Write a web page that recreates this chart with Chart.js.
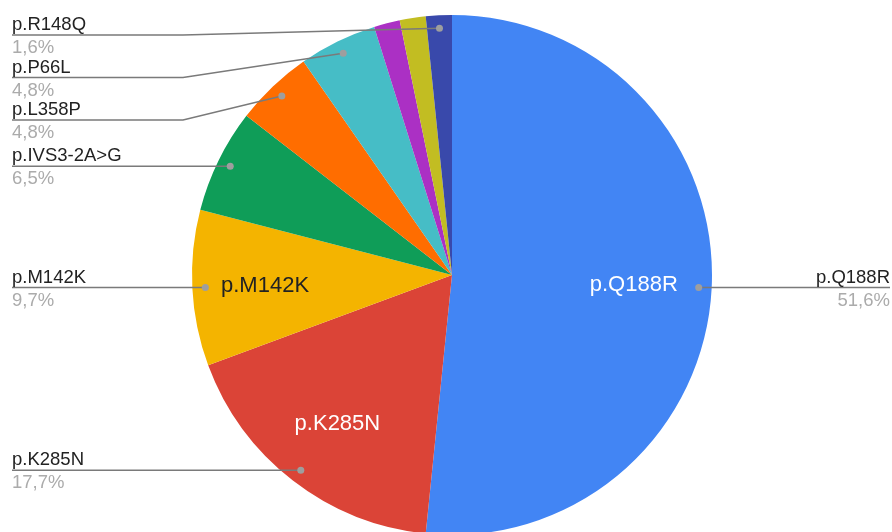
<!DOCTYPE html>
<html>
<head>
<meta charset="utf-8">
<script src="https://cdn.jsdelivr.net/npm/chart.js@4"></script>
<style>
  html, body { margin: 0; padding: 0; background: #fff; overflow: hidden; width: 892px; height: 532px; }
  canvas { position: absolute; left: 0; top: 0; }
</style>
</head>
<body>
<canvas id="c" width="892" height="550"></canvas>
<script>
// ---- data ----
const categories = ['p.Q188R', 'p.K285N', 'p.M142K', 'p.IVS3-2A>G', 'p.L358P', 'p.P66L', 'p.(other 1)', 'p.(other 2)', 'p.R148Q'];
const counts = [32, 11, 6, 4, 3, 3, 1, 1, 1];
const hiddenOuterLabels = ['p.(other 1)', 'p.(other 2)'];

// ---- style ----
const sliceColors = ['#4285F4', '#DB4437', '#F4B400', '#0F9D58', '#FF6D00', '#46BDC6', '#AB30C4', '#C2BD22', '#3949AB'];
const FONT = '"Liberation Sans", Arial, sans-serif';

function isLight(hex) {
  const r = parseInt(hex.substr(1, 2), 16), g = parseInt(hex.substr(3, 2), 16), b = parseInt(hex.substr(5, 2), 16);
  return (0.299 * r + 0.587 * g + 0.114 * b) > 170;
}

const labelPlugin = {
  id: 'gLabels',
  afterDraw(chart) {
    const ctx = chart.ctx;
    const meta = chart.getDatasetMeta(0);
    const data = chart.data.datasets[0].data;
    const total = data.reduce((a, b) => a + b, 0);
    const left = [], right = [];
    meta.data.forEach((arc, i) => {
      const p = arc.getProps(['x', 'y', 'startAngle', 'endAngle', 'outerRadius'], true);
      const mid = (p.startAngle + p.endAngle) / 2;
      const R = p.outerRadius;
      const item = {
        i, mid, R, cx: p.x, cy: p.y,
        dx: p.x + Math.cos(mid) * R * 0.95,
        dy: p.y + Math.sin(mid) * R * 0.95,
        frac: data[i] / total
      };
      // inner label
      if (item.frac > 0.09) {
        ctx.save();
        ctx.font = '22px ' + FONT;
        ctx.fillStyle = isLight(sliceColors[i]) ? '#222222' : '#ffffff';
        ctx.textAlign = 'center';
        ctx.textBaseline = 'middle';
        const k = item.frac > 0.5 ? 0.70 : 0.72;
        ctx.fillText(chart.data.labels[i], p.x + Math.cos(mid) * R * k, p.y + Math.sin(mid) * R * k + 1);
        ctx.restore();
      }
      if (hiddenOuterLabels.includes(chart.data.labels[i])) return;
      (Math.cos(mid) < 0 ? left : right).push(item);
    });

    function drawLabel(item, lineY, textX, align, endX, bendX) {
      ctx.save();
      ctx.strokeStyle = '#7a7a7a';
      ctx.lineWidth = 1.4;
      ctx.beginPath();
      ctx.moveTo(item.dx, item.dy);
      if (Math.abs(lineY - item.dy) > 1) ctx.lineTo(bendX, lineY);
      ctx.lineTo(endX, lineY);
      ctx.stroke();
      ctx.fillStyle = '#9e9e9e';
      ctx.beginPath();
      ctx.arc(item.dx, item.dy, 3.5, 0, Math.PI * 2);
      ctx.fill();
      ctx.font = '18.5px ' + FONT;
      ctx.textAlign = align;
      ctx.textBaseline = 'alphabetic';
      ctx.fillStyle = '#222222';
      ctx.fillText(chart.data.labels[item.i], textX, lineY - 5);
      ctx.fillStyle = '#ababab';
      ctx.fillText((item.frac * 100).toFixed(1).replace('.', ',') + '%', textX, lineY + 18);
      ctx.restore();
    }

    left.sort((a, b) => a.dy - b.dy);
    let prev = -Infinity;
    left.forEach(item => {
      const lineY = Math.max(item.dy, prev + 42.5, 35);
      prev = lineY;
      drawLabel(item, lineY, 12, 'left', 12, item.cx - item.R - 9);
    });
    right.forEach(item => {
      drawLabel(item, item.dy, 890, 'right', 890, item.cx + item.R + 9);
    });
  }
};

new Chart(document.getElementById('c'), {
  type: 'pie',
  data: {
    labels: categories,
    datasets: [{
      data: counts,
      backgroundColor: sliceColors,
      borderWidth: 0
    }]
  },
  options: {
    responsive: false,
    devicePixelRatio: 1,
    animation: false,
    layout: { padding: { left: 12, right: 0, top: 15, bottom: 15 } },
    plugins: {
      legend: { display: false },
      tooltip: { enabled: false }
    }
  },
  plugins: [labelPlugin]
});
</script>
</body>
</html>
